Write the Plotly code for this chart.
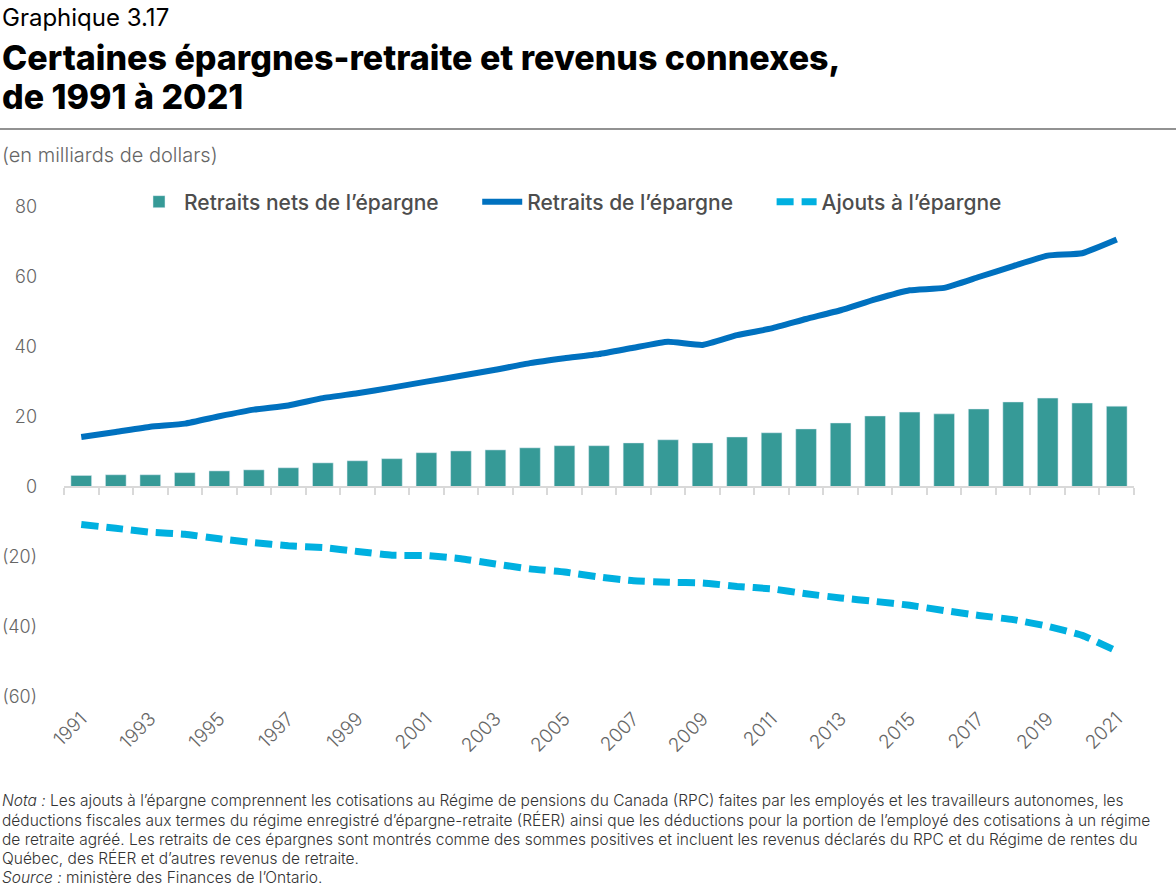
#######
# Graphique 3.17 : épargnes-retraite et revenus connexes, 1991 à 2021
# Bars = retraits nets, solid line = retraits, dashed line = ajouts
######
import plotly.graph_objs as go

# data (milliards de dollars)
years = list(range(1991, 2022))
retraits_nets = [3.3, 3.5, 3.5, 4.1, 4.6, 4.9, 5.5, 6.9, 7.5, 8.1, 9.8, 10.3,
                 10.6, 11.2, 11.8, 11.8, 12.6, 13.5, 12.6, 14.3, 15.5, 16.6,
                 18.3, 20.3, 21.4, 20.9, 22.3, 24.3, 25.4, 24.0, 23.1]
retraits = [14.3, 15.7, 17.2, 18.1, 20.2, 22.1, 23.3, 25.4, 26.8, 28.4, 30.1,
            31.8, 33.5, 35.4, 36.8, 38.0, 39.8, 41.5, 40.6, 43.4, 45.3, 48.0,
            50.5, 53.6, 56.2, 56.9, 60.0, 63.1, 66.1, 66.8, 70.7]
ajouts = [-10.7, -11.8, -12.9, -13.5, -14.8, -15.9, -16.8, -17.3, -18.4, -19.5,
          -19.6, -20.5, -22.0, -23.4, -24.3, -25.7, -26.8, -27.2, -27.4, -28.4,
          -29.1, -30.5, -31.7, -32.7, -33.8, -35.3, -36.7, -37.9, -39.8, -42.4,
          -46.9]
year_ticks = years[::2]
y_ticks = [-60, -40, -20, 0, 20, 40, 60, 80]
y_tick_text = ['(60)', '(40)', '(20)', '0', '20', '40', '60', '80']
series_names = ['Retraits nets de l’épargne', 'Retraits de l’épargne',
                'Ajouts à l’épargne']
note_lines = [
    '<i>Nota :</i> Les ajouts à l’épargne comprennent les cotisations au Régime de pensions du Canada (RPC) faites par les employés et les travailleurs autonomes, les',
    'déductions fiscales aux termes du régime enregistré d’épargne-retraite (RÉER) ainsi que les déductions pour la portion de l’employé des cotisations à un régime',
    'de retraite agréé. Les retraits de ces épargnes sont montrés comme des sommes positives et incluent les revenus déclarés du RPC et du Régime de rentes du',
    'Québec, des RÉER et d’autres revenus de retraite.',
    '<i>Source :</i> ministère des Finances de l’Ontario.',
]

# page geometry
W, H = 1176, 888
L, R, T, B = 64, 42, 207, 191
pw, ph = W - L - R, H - T - B
y_range = [-60, 80]
x_range = [years[0] - 0.5, years[-1] + 0.5]


def px(x):
    return (x - L) / pw


def py(y):
    return (H - B - y) / ph


FONT = 'Inter'
GREY = '#666666'
NBSP = '\u00a0'

data = [
    go.Bar(x=years, y=retraits_nets, name=series_names[0] + NBSP * 6,
           marker=dict(color='#369a97'), width=0.6),
    go.Scatter(x=years, y=retraits, name=series_names[1] + NBSP * 6,
               mode='lines',
               line=dict(color='#0071bf', width=6, shape='spline',
                         smoothing=0.4)),
    go.Scatter(x=years, y=ajouts, name=series_names[2], mode='lines',
               line=dict(color='#00b0e0', width=7, dash='17px,8px',
                         shape='spline', smoothing=0.4)),
    # invisible trace so the zero axis (x2) gets drawn
    go.Scatter(x=years, y=retraits_nets, xaxis='x2', mode='none',
               showlegend=False, hoverinfo='skip'),
]

layout = go.Layout(
    width=W, height=H,
    margin=dict(l=L, r=R, t=T, b=B, autoexpand=False),
    paper_bgcolor='white', plot_bgcolor='white',
    font=dict(family=FONT, color=GREY),
    showlegend=True,
    legend=dict(orientation='h', x=px(134), xanchor='left', y=py(202),
                yanchor='middle',
                font=dict(size=21, color='#4d4d4d', weight=500),
                bgcolor='rgba(0,0,0,0)', itemwidth=40, traceorder='normal'),
    xaxis=dict(range=x_range, tickmode='array', tickvals=year_ticks,
               tickangle=-45, showline=False, showgrid=False, zeroline=False,
               automargin=False, ticks='', ticklabelstandoff=6,
               tickfont=dict(size=19, color=GREY, weight=300)),
    xaxis2=dict(range=x_range, overlaying='x', anchor='free',
                position=(0 - y_range[0]) / (y_range[1] - y_range[0]),
                showline=True, linecolor='#d9d9d9', linewidth=2,
                ticks='outside', ticklen=7, tickwidth=2, tickcolor='#d9d9d9',
                tickmode='linear', tick0=x_range[0], dtick=1,
                showticklabels=False, showgrid=False, zeroline=False),
    yaxis=dict(range=y_range, tickmode='array', tickvals=y_ticks,
               ticktext=y_tick_text, showgrid=False, zeroline=False,
               showline=False, ticklabelstandoff=26, automargin=False,
               tickfont=dict(size=18, color=GREY, weight=300)),
    shapes=[dict(type='line', xref='paper', yref='paper',
                 x0=px(0), x1=px(W), y0=py(129), y1=py(129),
                 line=dict(color='#262626', width=1.2))],
)

texts = [
    ('Graphique 3.17', 17, 24, 'black', 400),
    ('Certaines épargnes-retraite et revenus connexes,', 57, 34, 'black', 800),
    ('de 1991 à 2021', 97, 34, 'black', 800),
    ('(en milliards de dollars)', 155, 20, GREY, 300),
]
# footnote, one line per annotation to keep the tight line spacing
for i, line in enumerate(note_lines):
    texts.append((line, 801 + 19 * i, 15.5, '#333333', 300))

annotations = []
for txt, yc, size, col, wt in texts:
    annotations.append(dict(
        text=txt, xref='paper', yref='paper',
        x=px(0), y=py(yc), xanchor='left', yanchor='middle', showarrow=False,
        font=dict(size=size, color=col, family=FONT, weight=wt)))
layout.annotations = annotations

fig = go.Figure(data=data, layout=layout)
fig.write_html('out.html', config={'displayModeBar': False},
               post_script="document.body.style.margin='0px';")
